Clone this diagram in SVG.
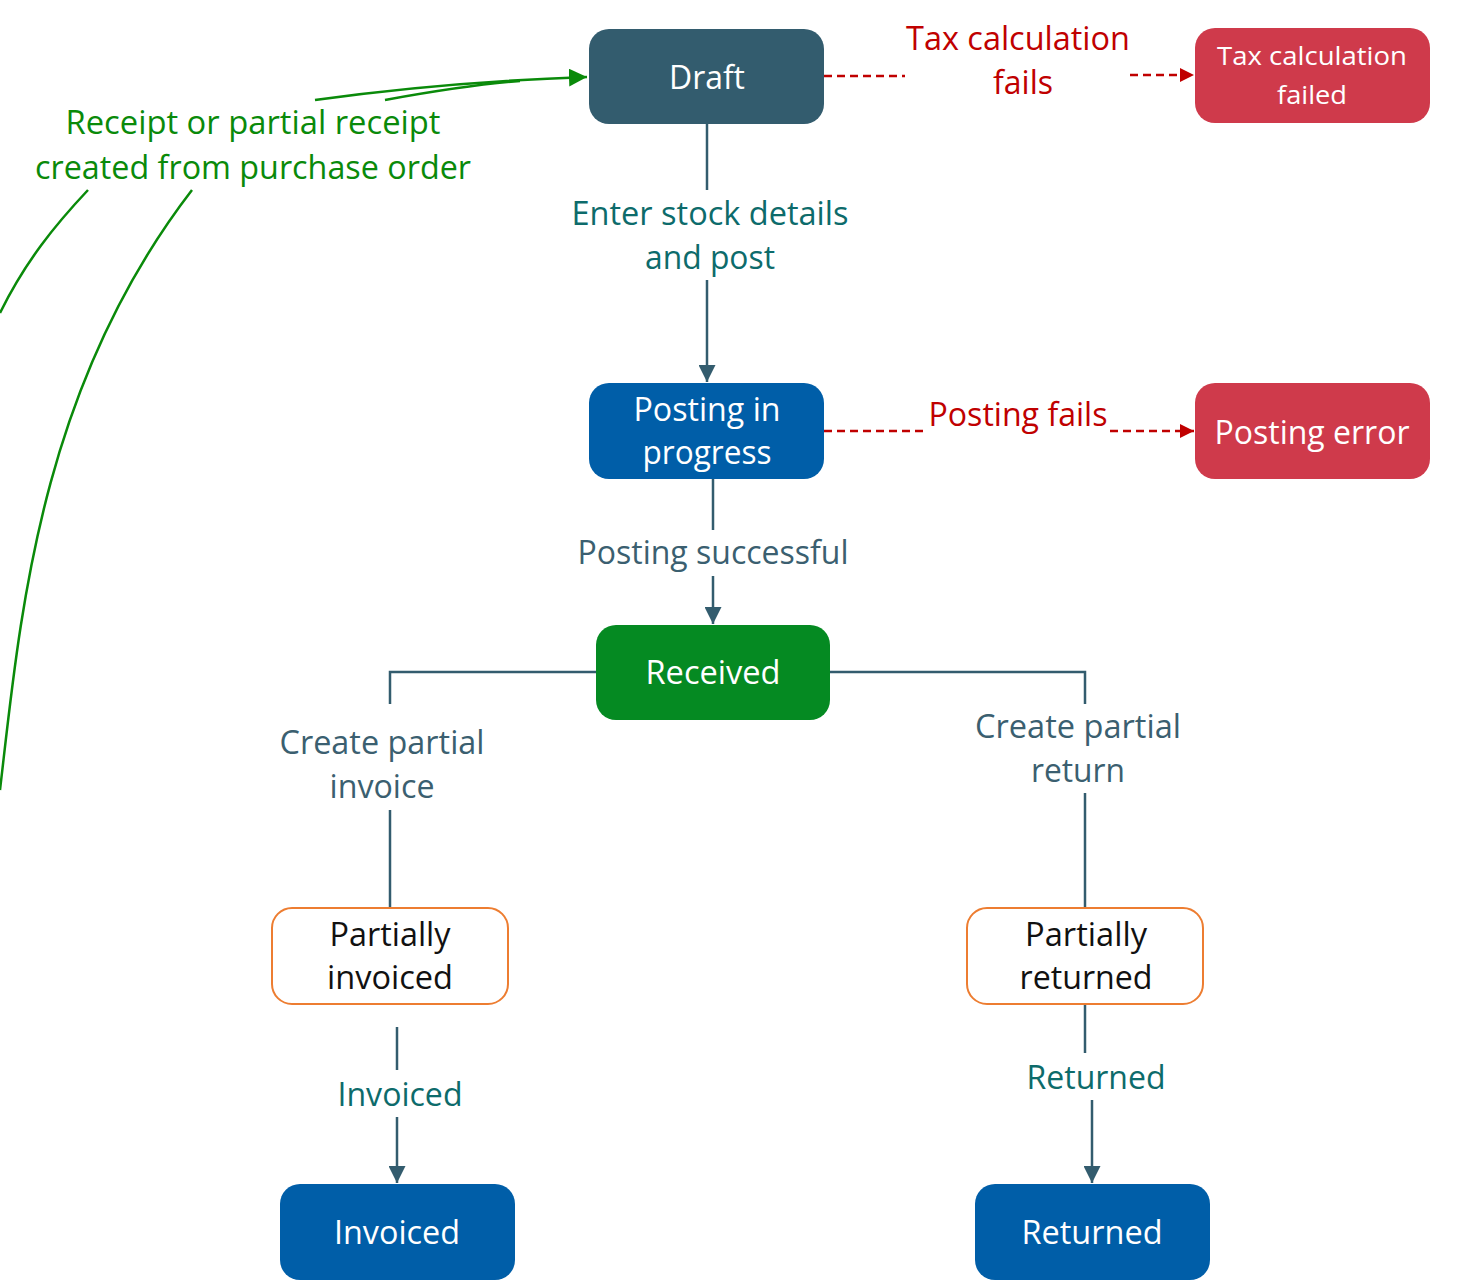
<svg xmlns="http://www.w3.org/2000/svg" width="1473" height="1285" viewBox="0 0 1473 1285">
<style>
text{font-family:"Open Sans","Noto Sans","Liberation Sans",sans-serif;text-anchor:middle;}
.nt{fill:#ffffff;font-size:33px;}
.ns{fill:#ffffff;font-size:26px;}
.nb{fill:#111111;font-size:33px;}
.lt{fill:#0d6b6b;font-size:33px;}
.lg{fill:#3b5f70;font-size:33px;}
.lr{fill:#c00000;font-size:33px;}
.lgr{fill:#0a8a0a;font-size:33px;}
.ln{fill:none;stroke:#335c6e;stroke-width:2.5;}
.dr{fill:none;stroke:#c00000;stroke-width:2.5;stroke-dasharray:8,5;}
.gr{fill:none;stroke:#0a8a0a;stroke-width:2.5;}
</style>
<defs>
<marker id="ah" viewBox="0 0 10 10" refX="10" refY="5" markerWidth="17" markerHeight="17" markerUnits="userSpaceOnUse" orient="auto"><path d="M0,0 L10,5 L0,10 z" fill="#335c6e"/></marker>
<marker id="ar" viewBox="0 0 10 10" refX="10" refY="5" markerWidth="14" markerHeight="14" markerUnits="userSpaceOnUse" orient="auto"><path d="M0,0 L10,5 L0,10 z" fill="#c00000"/></marker>
<marker id="ag" viewBox="0 0 10 10" refX="10" refY="5" markerWidth="18" markerHeight="18" markerUnits="userSpaceOnUse" orient="auto"><path d="M0,0 L10,5 L0,10 z" fill="#0a8a0a"/></marker>
</defs>
<g id="connectors">
<path class="ln" d="M707,124 V190"/>
<path class="ln" d="M707,280 V382" marker-end="url(#ah)"/>
<path class="ln" d="M713,479 V530"/>
<path class="ln" d="M713,576 V624" marker-end="url(#ah)"/>
<path class="ln" d="M596,672 H390 V704"/>
<path class="ln" d="M390,810 V908"/>
<path class="ln" d="M830,672 H1085 V704"/>
<path class="ln" d="M1085,793 V908"/>
<path class="ln" d="M397,1027 V1070"/>
<path class="ln" d="M397,1117 V1183" marker-end="url(#ah)"/>
<path class="ln" d="M1085,1004 V1053"/>
<path class="ln" d="M1092,1100 V1183" marker-end="url(#ah)"/>
<path class="dr" d="M824,76 H905"/>
<path class="dr" d="M1130,75 H1194" marker-end="url(#ar)"/>
<path class="dr" d="M824,431 H928"/>
<path class="dr" d="M1110,431 H1194" marker-end="url(#ar)"/>
<path class="gr" d="M0,313 C25,262 55,225 88,190"/>
<path class="gr" d="M0,790 C20,620 38,390 192,190"/>
<path class="gr" d="M315,100 C400,88 500,80 587,77" marker-end="url(#ag)"/>
<path class="gr" d="M385,100 C440,90 480,84 520,81"/>
<text class="lt" x="710" y="225" textLength="277" lengthAdjust="spacingAndGlyphs">Enter stock details</text>
<text class="lt" x="710" y="269" textLength="130" lengthAdjust="spacingAndGlyphs">and post</text>
<text class="lg" x="713" y="564" textLength="271" lengthAdjust="spacingAndGlyphs">Posting successful</text>
<text class="lg" x="382" y="754" textLength="205" lengthAdjust="spacingAndGlyphs">Create partial</text>
<text class="lg" x="382" y="798" textLength="105" lengthAdjust="spacingAndGlyphs">invoice</text>
<text class="lg" x="1078" y="738" textLength="206" lengthAdjust="spacingAndGlyphs">Create partial</text>
<text class="lg" x="1078" y="782" textLength="94" lengthAdjust="spacingAndGlyphs">return</text>
<text class="lt" x="400" y="1106" textLength="125" lengthAdjust="spacingAndGlyphs">Invoiced</text>
<text class="lt" x="1096" y="1089" textLength="139" lengthAdjust="spacingAndGlyphs">Returned</text>
<text class="lr" x="1018" y="50" textLength="224" lengthAdjust="spacingAndGlyphs">Tax calculation</text>
<text class="lr" x="1023" y="94" textLength="60" lengthAdjust="spacingAndGlyphs">fails</text>
<text class="lr" x="1018" y="426" textLength="179" lengthAdjust="spacingAndGlyphs">Posting fails</text>
<text class="lgr" x="253" y="134" textLength="375" lengthAdjust="spacingAndGlyphs">Receipt or partial receipt</text>
<text class="lgr" x="253" y="179" textLength="436" lengthAdjust="spacingAndGlyphs">created from purchase order</text>
</g>
<g id="draft"><rect x="589" y="29" width="235" height="95" rx="20" fill="#335c6e"/><text class="nt" x="707" y="89" textLength="76" lengthAdjust="spacingAndGlyphs">Draft</text></g>
<g id="tax-failed"><rect x="1195" y="28" width="235" height="95" rx="20" fill="#cf3a4b"/><text class="ns" x="1312" y="65" textLength="190" lengthAdjust="spacingAndGlyphs">Tax calculation</text><text class="ns" x="1312" y="104" textLength="70" lengthAdjust="spacingAndGlyphs">failed</text></g>
<g id="posting-in-progress"><rect x="589" y="383" width="235" height="96" rx="20" fill="#005ea8"/><text class="nt" x="707" y="421" textLength="147" lengthAdjust="spacingAndGlyphs">Posting in</text><text class="nt" x="707" y="464" textLength="129" lengthAdjust="spacingAndGlyphs">progress</text></g>
<g id="posting-error"><rect x="1195" y="383" width="235" height="96" rx="20" fill="#cf3a4b"/><text class="nt" x="1312" y="444" textLength="195" lengthAdjust="spacingAndGlyphs">Posting error</text></g>
<g id="received"><rect x="596" y="625" width="234" height="95" rx="20" fill="#058a22"/><text class="nt" x="713" y="684" textLength="135" lengthAdjust="spacingAndGlyphs">Received</text></g>
<g id="partially-invoiced"><rect x="272" y="908" width="236" height="96" rx="20" fill="#ffffff" stroke="#ed7d31" stroke-width="2"/><text class="nb" x="390" y="946" textLength="121" lengthAdjust="spacingAndGlyphs">Partially</text><text class="nb" x="390" y="989" textLength="126" lengthAdjust="spacingAndGlyphs">invoiced</text></g>
<g id="partially-returned"><rect x="967" y="908" width="236" height="96" rx="20" fill="#ffffff" stroke="#ed7d31" stroke-width="2"/><text class="nb" x="1086" y="946" textLength="122" lengthAdjust="spacingAndGlyphs">Partially</text><text class="nb" x="1086" y="989" textLength="133" lengthAdjust="spacingAndGlyphs">returned</text></g>
<g id="invoiced"><rect x="280" y="1184" width="235" height="96" rx="20" fill="#005ea8"/><text class="nt" x="397" y="1244" textLength="126" lengthAdjust="spacingAndGlyphs">Invoiced</text></g>
<g id="returned"><rect x="975" y="1184" width="235" height="96" rx="20" fill="#005ea8"/><text class="nt" x="1092" y="1244" textLength="141" lengthAdjust="spacingAndGlyphs">Returned</text></g>
</svg>
